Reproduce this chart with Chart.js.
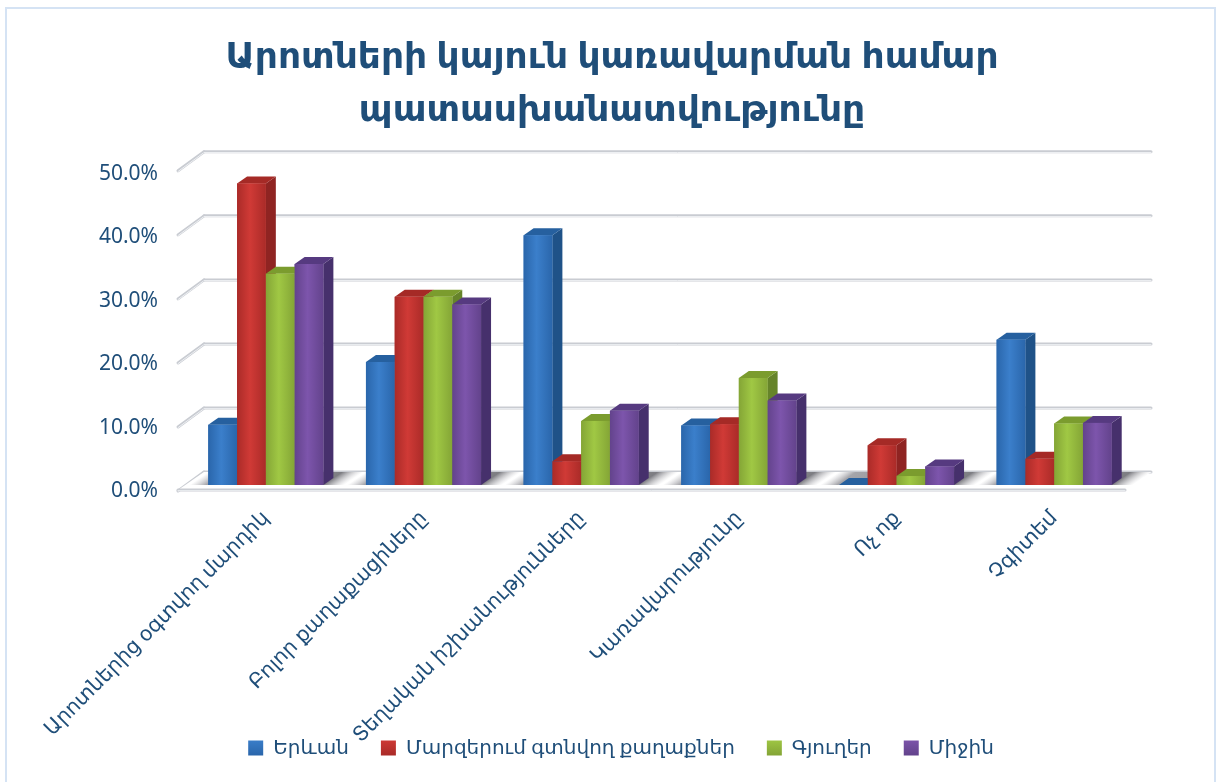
<!DOCTYPE html>
<html><head><meta charset="utf-8">
<style>html,body{margin:0;padding:0;background:#fff;overflow:hidden}
#frame{position:absolute;left:5px;top:7px;width:1211px;height:790px;border:2px solid #d5e3f4;box-sizing:border-box}
#wrap{position:absolute;left:0;top:0;width:1216px;height:782px}</style>
<script src="https://cdn.jsdelivr.net/npm/chart.js@4/dist/chart.umd.min.js"></script>
</head><body><div id="frame"></div><div id="wrap"><canvas id="c" width="1216" height="782"></canvas></div>
<script>
const titleLines = ["Արոտների կայուն կառավարման համար", "պատասխանատվությունը"];
const categories = ["Արոտներից օգտվող մարդիկ", "Բոլոր քաղաքացիները", "Տեղական իշխանությունները", "Կառավարությունը", "Ոչ ոք", "Չգիտեմ"];
const yerevan = [9.4, 19.2, 39.0, 9.3, 0, 22.7];
const towns   = [47.1, 29.4, 3.7, 9.5, 6.2, 4.1];
const villages= [33.0, 29.4, 10.0, 16.7, 1.4, 9.6];
const average = [34.5, 28.2, 11.6, 13.2, 2.9, 9.7];
const seriesNames = ["Երևան", "Մարզերում գտնվող քաղաքներ", "Գյուղեր", "Միջին"];
const tickValues = [0, 10, 20, 30, 40, 50];
const fronts = [["#3b7fcb","#2a66ab"],["#d03a36","#aa2b28"],["#a0c844","#84a536"],["#7d55ac","#63438c"]];
const sides  = ["#1f5288","#8f2422","#66842a","#46306c"];
const tops   = ["#26609f","#a52a26","#7b9c2e","#563a80"];
const ink = "#1f4e79";
const FONT = '"Noto Sans","DejaVu Sans",sans-serif';
const DX = 10, DY = 7, WALL_DY = 13, WALL_DX = 26;

const ctx0 = document.getElementById('c').getContext('2d');
function lg(c1,c2,y1,y2){const g=ctx0.createLinearGradient(0,y1,0,y2);g.addColorStop(0,c1);g.addColorStop(1,c2);return g;}

function gline(ctx,x1,y1,x2,y2){
  ctx.lineCap='round';
  ctx.strokeStyle='#c9ccd2';ctx.lineWidth=3;ctx.beginPath();ctx.moveTo(x1,y1);ctx.lineTo(x2,y2);ctx.stroke();
  ctx.strokeStyle='#eef0f3';ctx.lineWidth=1;ctx.beginPath();ctx.moveTo(x1,y1+0.7);ctx.lineTo(x2,y2+0.7);ctx.stroke();
}
const wall = {id:'wall',
  afterLayout(chart){ chart.legend.left+=9; chart.legend.right+=9; chart.scales.x.bottom=chart.height; },
  beforeDatasetsDraw(chart){
    const ctx=chart.ctx, y=chart.scales.y, x=chart.scales.x;
    const left=178, right=x.right+18;
    ctx.save();
    tickValues.forEach(v=>{
      const py=y.getPixelForValue(v)-WALL_DY;
      const fy=py+19;
      gline(ctx,left,fy,left+WALL_DX,py);
      gline(ctx,left+WALL_DX,py,right,py);
    });
    const by=y.getPixelForValue(0);
    ctx.fillStyle='#fff';
    ctx.beginPath();ctx.moveTo(left,by+5);ctx.lineTo(left+WALL_DX,by-WALL_DY);ctx.lineTo(right,by-WALL_DY);ctx.lineTo(right-26,by+5);ctx.closePath();ctx.fill();
    const meta0=chart.getDatasetMeta(0), meta3=chart.getDatasetMeta(3);
    const k=-19/WALL_DY;
    categories.forEach((_,i)=>{
      const l=meta0.data[i].x-meta0.data[i].width/2, r=meta3.data[i].x+meta3.data[i].width/2;
      const x0=l-19, x1=r+21, span=x1-x0;
      ctx.save();
      ctx.transform(1,0,k,1,-k*by,0);
      const g=ctx.createLinearGradient(x0,0,x1,0);
      g.addColorStop(0,'rgba(190,190,195,0)');g.addColorStop(17/span,'rgba(165,165,170,1)');
      g.addColorStop((r-x0)/span,'rgba(125,125,130,1)');g.addColorStop(1,'rgba(190,190,195,0)');
      ctx.fillStyle=g;
      ctx.fillRect(x0,by-WALL_DY,span,WALL_DY);
      ctx.restore();
    });
    gline(ctx,left,by+5,right-26,by+5);
    ctx.restore();
  },
  afterDatasetsDraw(chart){
    const ctx=chart.ctx;
    ctx.save();
    categories.forEach((_,i)=>{
      chart.data.datasets.forEach((ds,d)=>{
        const b=chart.getDatasetMeta(d).data[i];
        const l=b.x-b.width/2, r=b.x+b.width/2, t=b.y, base=b.base;
        ctx.fillStyle=sides[d];
        ctx.beginPath();ctx.moveTo(r,t);ctx.lineTo(r+DX,t-DY);ctx.lineTo(r+DX,base-DY);ctx.lineTo(r,base);ctx.closePath();ctx.fill();
        ctx.fillStyle=tops[d];
        ctx.beginPath();ctx.moveTo(l,t);ctx.lineTo(l+DX,t-DY);ctx.lineTo(r+DX,t-DY);ctx.lineTo(r,t);ctx.closePath();ctx.fill();
        if(base-t>0.5){
          const g=ctx.createLinearGradient(l,0,r,0);
          const c=fronts[d];
          g.addColorStop(0,c[1]);g.addColorStop(.45,c[0]);g.addColorStop(1,c[1]);
          ctx.fillStyle=g;ctx.fillRect(l,t,r-l,base-t);
        }
      });
    });
    ctx.restore();
  }
};
const onlyTicks = s => { s.ticks = tickValues.map(v=>({value:v})); };

new Chart(ctx0,{
  type:'bar',
  data:{labels:categories,datasets:[yerevan,towns,villages,average].map((d,i)=>({
    label:seriesNames[i],data:d,
    backgroundColor:lg(fronts[i][0],fronts[i][1],150,490),
    categoryPercentage:0.73,barPercentage:1,yAxisID:'y'}))},
  plugins:[wall],
  options:{
    responsive:false,animation:false,
    layout:{padding:{top:0,left:8,right:0,bottom:14}},
    plugins:{
      title:{display:true,text:titleLines,color:ink,font:{family:FONT,size:36,weight:'bold',lineHeight:1.47},padding:{top:31,bottom:13}},
      legend:{position:'bottom',labels:{color:ink,font:{family:FONT,size:20},boxWidth:15,boxHeight:15,padding:32,
        generateLabels(chart){return seriesNames.map((n,i)=>({text:n,fillStyle:lg(fronts[i][0],fronts[i][1],739,755),strokeStyle:fronts[i][1],lineWidth:0,fontColor:ink,datasetIndex:i,hidden:false}));}}},
      tooltip:{enabled:false}
    },
    scales:{
      x:{offset:true,grid:{display:false},border:{display:false},
        ticks:{color:ink,font:{family:FONT,size:20.5},maxRotation:45,minRotation:45,padding:3,autoSkip:false},
        afterFit(s){s.height=211;}},
      y:{min:-1.5625,max:52.34,position:'left',grid:{display:false},border:{display:false},
        ticks:{display:false},afterBuildTicks:onlyTicks,afterFit(s){s.width=0;}},
      yL:{min:-0.631,max:53.785,position:'left',grid:{display:false},border:{display:false},
        ticks:{color:ink,font:{family:FONT,size:21},padding:21,callback:v=>v.toFixed(1)+'%'},
        afterBuildTicks:onlyTicks,afterFit(s){s.width=179;}},
      yR:{position:'right',display:true,grid:{display:false},border:{display:false},ticks:{display:false},afterFit(s){s.width=83;}}
    }
  }
});
</script></body></html>
